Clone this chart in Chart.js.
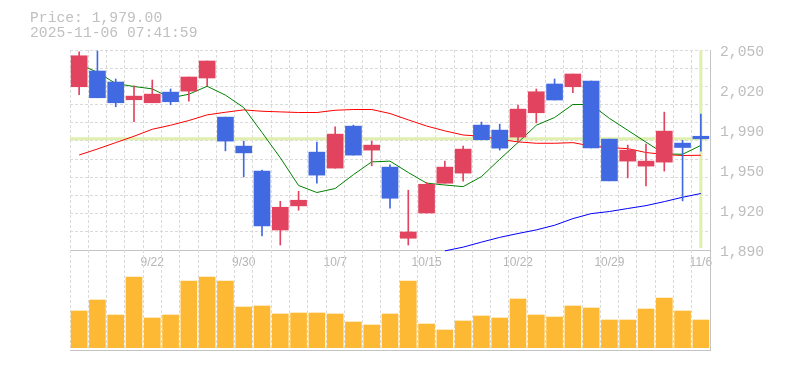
<!DOCTYPE html>
<html>
<head>
<meta charset="utf-8">
<script src="https://cdn.jsdelivr.net/npm/chart.js@4.4.1/dist/chart.umd.min.js"></script>
<style>
html,body{margin:0;padding:0;background:#fff;}
#wrap{position:relative;width:785px;height:370px;overflow:hidden;background:#fff;}
#wrap canvas{position:absolute;left:0;top:0;}
#info{position:absolute;left:30px;top:11px;font-family:'Liberation Mono',monospace;font-size:14.7px;line-height:15px;color:#c0c0c0;white-space:pre;}
</style>
</head>
<body>
<div id="wrap">
<canvas id="price" width="785" height="370"></canvas>
<canvas id="vol" width="785" height="370"></canvas>
<div id="info">Price: 1,979.00
2025-11-06 07:41:59</div>
</div>
<script>
const dates = ['9/16','9/17','9/18','9/19','9/22','9/24','9/25','9/26','9/29','9/30',
  '10/1','10/2','10/3','10/6','10/7','10/8','10/9','10/10','10/14','10/15',
  '10/16','10/17','10/20','10/21','10/22','10/23','10/24','10/27','10/28','10/29',
  '10/30','10/31','11/4','11/5','11/6'];
const shownDates = ['9/22','9/30','10/7','10/15','10/22','10/29','11/6'];

const opens  = [2020.6,2033.2,2024.4,2010.2,2007.8,2016.3,2017.1,2027.6,1996.3,1973.1,
  1953.1,1906.0,1925.3,1968.3,1955.5,1989.1,1969.9,1956.3,1899.4,1919.6,
  1943.4,1951.5,1989.9,1985.9,1980.3,1999.8,2022.8,2020.6,2025.2,1978.7,
  1961.1,1957.1,1960.3,1975.5,1981.0];
const highs  = [2048.6,2049.2,2026.8,2021.4,2026.0,2018.8,2028.4,2041.2,1996.3,1977.1,
  1953.9,1929.0,1937.0,1976.3,1988.6,1989.9,1977.1,1958.1,1937.8,1944.0,
  1961.1,1973.1,1992.3,1990.7,2005.9,2018.8,2026.8,2030.8,2025.2,1978.7,
  1973.9,1974.7,2000.3,1977.7,1998.7];
const lows   = [2014.2,2011.8,2004.6,1992.6,2007.8,2006.2,2009.1,2021.4,1969.3,1948.5,
  1901.2,1894.0,1921.8,1943.4,1955.5,1965.9,1957.3,1923.4,1894.0,1919.6,
  1943.4,1945.0,1978.2,1969.9,1976.0,1991.7,2010.0,2015.8,1971.7,1945.3,
  1947.7,1941.3,1953.1,1929.3,1969.1];
const closes = [2045.4,2011.8,2007.8,2013.1,2014.7,2008.6,2028.4,2041.2,1977.1,1967.7,
  1909.3,1924.2,1929.8,1949.9,1982.7,1965.9,1973.9,1931.4,1904.4,1942.6,
  1956.3,1970.7,1978.2,1971.5,2002.7,2016.6,2010.0,2030.8,1971.7,1945.3,
  1969.9,1961.1,1985.1,1972.0,1979.0];

const ma5  = [2038.6,2032.2,2023.2,2020.8,2018.9,2011.7,2014.6,2021.0,2013.9,2003.9,
  1984.0,1963.8,1941.6,1936.0,1939.2,1950.3,1960.5,1961.1,1952.0,1943.5,
  1942.0,1940.7,1948.7,1962.6,1976.0,1989.8,1996.0,2006.4,2006.4,1995.3,
  1985.8,1976.3,1966.9,1966.6,1973.7];
const ma25 = [1966.0,1970.8,1975.9,1981.0,1986.6,1989.8,1993.6,1998.1,2000.2,2002.1,
  2001.0,2000.5,2000.0,2000.0,2001.8,2002.4,2002.4,1999.2,1994.1,1989.2,
  1985.3,1982.0,1981.0,1978.5,1976.5,1975.4,1975.4,1975.9,1973.2,1971.9,
  1971.1,1968.0,1966.4,1965.6,1965.8];
const ma75 = [null,null,null,null,null,null,null,null,null,null,
  null,null,null,null,null,null,null,null,null,null,
  1889.3,1892.3,1896.3,1900.1,1903.2,1906.1,1909.8,1915.1,1919.1,1920.8,
  1923.2,1925.5,1928.7,1932.2,1935.2];

const volumes = [36700,47700,32700,70700,29700,32700,66700,70700,66700,40700,
  41700,33700,34700,34700,33700,25700,22700,33700,66700,23700,
  17700,26700,31700,29700,48700,32700,30700,41700,39700,27700,
  27700,38700,49700,36700,27700];

const yTickValues = [1890,1922,1954,1986,2018,2050];
const yTickLabels = ['1,890','1,920','1,950','1,990','2,020','2,050'];
const lastPrice = 1979.0;

const Y_MIN = 1890, Y_MAX = 2050, GRID_DIV = 11;
const UP = '#e2445f', DOWN = '#4169e1';
const GRID = '#dadada', AXIS = '#c4c4c4', DASH = [3,2];
const candleColors = closes.map((c,i) => c >= opens[i] ? UP : DOWN);
const gridValues = [];
for (let k = 0; k <= GRID_DIV; k++) gridValues.push(Y_MIN + (Y_MAX - Y_MIN) * k / GRID_DIV);

const crosshair = {
  id: 'crosshair',
  beforeDatasetsDraw(chart) {
    const {ctx, chartArea: a, scales: {x, y}} = chart;
    const px = x.getPixelForValue(dates.length - 1);
    const py = y.getPixelForValue(lastPrice);
    ctx.save();
    ctx.strokeStyle = '#e0efb0';
    ctx.lineWidth = 3;
    ctx.beginPath();
    ctx.moveTo(a.left, py); ctx.lineTo(a.right - 3, py);
    ctx.moveTo(px, a.top); ctx.lineTo(px, a.bottom - 2);
    ctx.stroke();
    ctx.restore();
  }
};

new Chart(document.getElementById('price'), {
  type: 'bar',
  data: {
    labels: dates,
    datasets: [
      { label: 'body', type: 'bar', order: 0, grouped: false,
        data: opens.map((o,i) => [o, closes[i]]),
        backgroundColor: candleColors, borderWidth: 0, barThickness: 16 },
      { label: 'wick', type: 'bar', order: 1, grouped: false,
        data: lows.map((l,i) => [l, highs[i]]),
        backgroundColor: candleColors, borderWidth: 0, barThickness: 1 },
      { label: 'MA5', type: 'line', order: 2, data: ma5,
        borderColor: '#008000', borderWidth: 1, pointRadius: 0, tension: 0, fill: false },
      { label: 'MA25', type: 'line', order: 3, data: ma25,
        borderColor: '#ff0000', borderWidth: 1, pointRadius: 0, tension: 0, fill: false },
      { label: 'MA75', type: 'line', order: 4, data: ma75, clip: false, spanGaps: false,
        borderColor: '#0000ff', borderWidth: 1, pointRadius: 0, tension: 0, fill: false }
    ]
  },
  options: {
    responsive: false, animation: false, events: [],
    layout: { padding: { left: 70, right: 0, top: 50, bottom: 100 } },
    plugins: { legend: { display: false }, tooltip: { enabled: false } },
    scales: {
      x: {
        type: 'category', offset: true,
        grid: { display: true, offset: true, color: GRID, lineWidth: 1, drawTicks: false, borderDash: DASH },
        border: { display: true, color: AXIS, dash: DASH },
        ticks: {
          autoSkip: false, maxRotation: 0, minRotation: 0, padding: 5, color: '#b5b5b5',
          font: { family: "'Liberation Sans Narrow','Liberation Sans',sans-serif", size: 12 },
          callback: (v, i) => shownDates.includes(dates[i]) ? dates[i] : ''
        },
        afterFit: s => { s.height = 20; }
      },
      y: {
        type: 'linear', position: 'right', min: Y_MIN, max: Y_MAX,
        afterBuildTicks: s => { s.ticks = yTickValues.map(v => ({ value: v })); },
        ticks: {
          padding: 10, labelOffset: 2, color: '#bdbdbd',
          font: { family: "'Liberation Mono',monospace", size: 14.7 },
          callback: v => { const k = yTickValues.indexOf(v); return k >= 0 ? yTickLabels[k] : ''; }
        },
        grid: { display: false, drawTicks: false },
        border: { display: true, color: AXIS },
        afterFit: s => { s.width = 75; }
      },
      yGrid: {
        type: 'linear', position: 'right', min: Y_MIN, max: Y_MAX,
        afterBuildTicks: s => { s.ticks = gridValues.map(v => ({ value: v })); },
        ticks: { display: false },
        grid: { display: true, color: GRID, drawTicks: false, borderDash: DASH },
        border: { display: false, dash: DASH },
        afterFit: s => { s.width = 0; }
      }
    }
  },
  plugins: [crosshair]
});

new Chart(document.getElementById('vol'), {
  type: 'bar',
  data: {
    labels: dates,
    datasets: [{ label: 'Volume', data: volumes, backgroundColor: '#fdb933', borderWidth: 0, barThickness: 16 }]
  },
  options: {
    responsive: false, animation: false, events: [],
    layout: { padding: { left: 70, right: 75, top: 250, bottom: 20 } },
    plugins: { legend: { display: false }, tooltip: { enabled: false } },
    scales: {
      x: {
        offset: true,
        grid: { display: true, offset: true, color: GRID, drawTicks: false, borderDash: DASH },
        border: { display: true, color: AXIS, dash: DASH },
        ticks: { display: false },
        afterFit: s => { s.height = 0; }
      },
      y: {
        position: 'right', min: -2300, max: 97700,
        ticks: { display: false },
        grid: { display: false, drawTicks: false },
        border: { display: true, color: AXIS },
        afterFit: s => { s.width = 0; }
      }
    }
  }
});
</script>
</body>
</html>
